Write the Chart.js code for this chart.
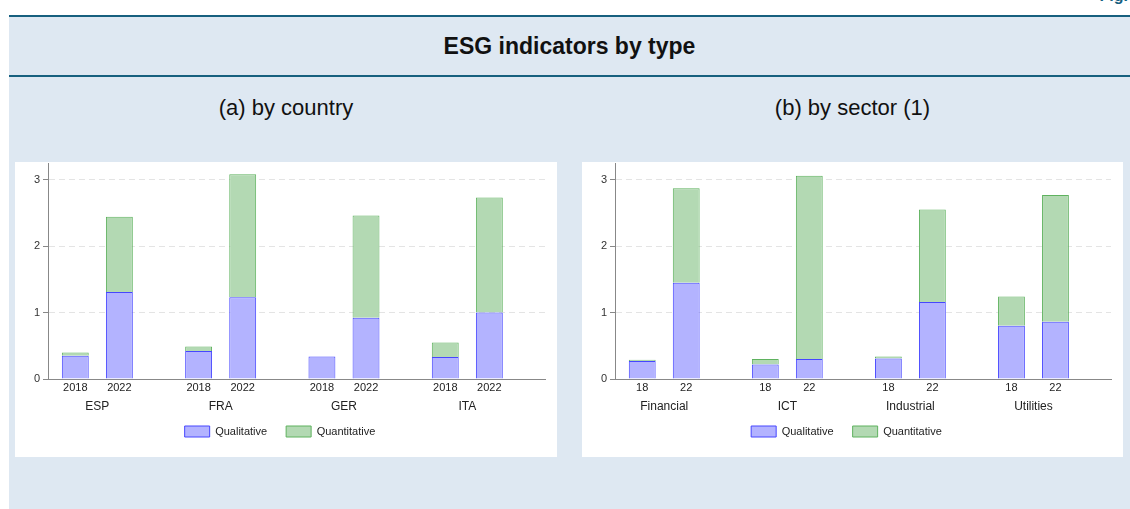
<!DOCTYPE html>
<html>
<head>
<meta charset="utf-8">
<script src="https://cdn.jsdelivr.net/npm/chart.js@4/dist/chart.umd.min.js"></script>
<style>
  body { margin: 0; width: 1130px; height: 509px; background: #fff; overflow: hidden; position: relative; font-family: "Liberation Sans", Arial, sans-serif; }
  .fig { position: absolute; right: 2px; top: -12px; font-size: 16px; line-height: 16px; font-weight: bold; color: #17607f; }
  .band { position: absolute; left: 9px; top: 15px; width: 1121px; height: 494px; background: #dee8f2; }
  .rule { position: absolute; left: 9px; width: 1121px; height: 2px; background: #17607f; }
  .title { position: absolute; left: 9px; width: 1121px; top: 33px; text-align: center; font-size: 23px; font-weight: bold; color: #111; }
  .sub { position: absolute; top: 95px; font-size: 22px; color: #111; text-align: center; }
  .panel { position: absolute; top: 162px; height: 295px; background: #fff; }
</style>
</head>
<body>
<div class="fig">Fig.</div>
<div class="band"></div>
<div class="rule" style="top:15px"></div>
<div class="rule" style="top:75px"></div>
<div class="title">ESG indicators by type</div>
<div class="sub" style="left:15px;width:542px">(a) by country</div>
<div class="sub" style="left:582px;width:541px">(b) by sector (1)</div>
<div class="panel" style="left:15px;width:542px"><canvas id="countryChart"></canvas></div>
<div class="panel" style="left:582px;width:541px"><canvas id="sectorChart"></canvas></div>

<script>
// Datos del panel (a): por país
const countries = ['ESP', 'FRA', 'GER', 'ITA'];
const countryYears = ['2018', '2022'];
const countryQual2018 = [0.35, 0.42, 0.34, 0.33];
const countryQuant2018 = [0.05, 0.07, 0.00, 0.22];
const countryQual2022 = [1.31, 1.23, 0.92, 1.00];
const countryQuant2022 = [1.13, 1.85, 1.54, 1.73];

// Datos del panel (b): por sector
const sectors = ['Financial', 'ICT', 'Industrial', 'Utilities'];
const sectorYears = ['18', '22'];
const sectorQual2018 = [0.27, 0.22, 0.31, 0.80];
const sectorQuant2018 = [0.02, 0.08, 0.03, 0.44];
const sectorQual2022 = [1.45, 0.30, 1.16, 0.86];
const sectorQuant2022 = [1.42, 2.76, 1.39, 1.91];

const yTicks = [0, 1, 2, 3];

const qualFill = 'rgb(179, 179, 255)';
const qualLine = 'rgb(70, 70, 255)';
const quantFill = 'rgb(179, 217, 179)';
const quantLine = 'rgb(95, 178, 95)';

Chart.defaults.font.family = '"Liberation Sans", Arial, sans-serif';
Chart.defaults.color = '#222';

// Etiquetas de año debajo de cada barra
const yearLabels = {
    id: 'yearLabels',
    afterLayout(chart) {
        // sube un poco la leyenda
        chart.legend.top -= 6;
        chart.legend.bottom -= 6;
    },
    afterDatasetsDraw(chart, args, opts) {
        const ctx = chart.ctx;
        ctx.save();
        ctx.font = '11px "Liberation Sans", Arial, sans-serif';
        ctx.fillStyle = '#222';
        ctx.textAlign = 'center';
        ctx.textBaseline = 'middle';
        [0, 2].forEach((di, k) => {
            chart.getDatasetMeta(di).data.forEach(bar => {
                ctx.fillText(opts.years[k], bar.x, chart.chartArea.bottom + 9);
            });
        });
        ctx.restore();
    }
};

function points(values) {
    return values.map((v, i) => ({ x: i, y: v }));
}

function makeChart(id, groups, years, qual18, quant18, qual22, quant22) {
    const ctx = document.getElementById(id);
    return new Chart(ctx, {
        type: 'bar',
        data: {
            datasets: [
                { label: 'Qualitative', data: points(qual18), stack: 'y18', backgroundColor: qualFill, borderColor: qualLine, borderWidth: 1 },
                { label: 'Quantitative', data: points(quant18), stack: 'y18', backgroundColor: quantFill, borderColor: quantLine, borderWidth: 1 },
                { label: 'Qualitative', data: points(qual22), stack: 'y22', backgroundColor: qualFill, borderColor: qualLine, borderWidth: 1 },
                { label: 'Quantitative', data: points(quant22), stack: 'y22', backgroundColor: quantFill, borderColor: quantLine, borderWidth: 1 }
            ]
        },
        options: {
            responsive: true,
            maintainAspectRatio: false,
            animation: false,
            datasets: {
                bar: { categoryPercentage: 0.715, barPercentage: 0.61 }
            },
            layout: { padding: { top: 1, right: 12, bottom: 4, left: 0 } },
            scales: {
                x: {
                    type: 'linear',
                    offset: false,
                    min: -0.4,
                    max: 3.63,
                    afterFit: scale => {
                        scale.height = 34;
                        scale.paddingLeft = 0;
                        scale.paddingRight = 0;
                    },
                    grid: { display: false, drawTicks: false },
                    border: { color: '#888', width: 1 },
                    ticks: {
                        stepSize: 1,
                        includeBounds: false,
                        maxRotation: 0,
                        autoSkip: false,
                        padding: 20,
                        font: { size: 12 },
                        color: '#222',
                        callback: v => Number.isInteger(v) ? groups[v] : ''
                    }
                },
                y: {
                    stacked: true,
                    min: 0,
                    max: 3.25,
                    afterFit: scale => {
                        scale.width = 33;
                        scale.paddingTop = 0;
                        scale.paddingBottom = 0;
                    },
                    afterBuildTicks: scale => { scale.ticks = yTicks.map(v => ({ value: v })); },
                    border: { color: '#888', width: 1, dash: [6, 4] },
                    grid: {
                        color: ctx => ctx.tick && ctx.tick.value === 0 ? 'rgba(0,0,0,0)' : '#e4e4e4',
                        tickColor: '#888',
                        tickBorderDash: [],
                        tickLength: 5
                    },
                    ticks: { font: { size: 11 }, color: '#333', padding: 3 }
                }
            },
            plugins: {
                legend: {
                    position: 'bottom',
                    labels: {
                        boxWidth: 25,
                        boxHeight: 11,
                        padding: 19,
                        font: { size: 11 },
                        color: '#222',
                        filter: item => item.datasetIndex < 2
                    }
                },
                tooltip: { enabled: false },
                yearLabels: { years: years }
            }
        },
        plugins: [yearLabels]
    });
}

document.addEventListener('DOMContentLoaded', function() {
    makeChart('countryChart', countries, countryYears, countryQual2018, countryQuant2018, countryQual2022, countryQuant2022);
    makeChart('sectorChart', sectors, sectorYears, sectorQual2018, sectorQuant2018, sectorQual2022, sectorQuant2022);
});
</script>
</body>
</html>
